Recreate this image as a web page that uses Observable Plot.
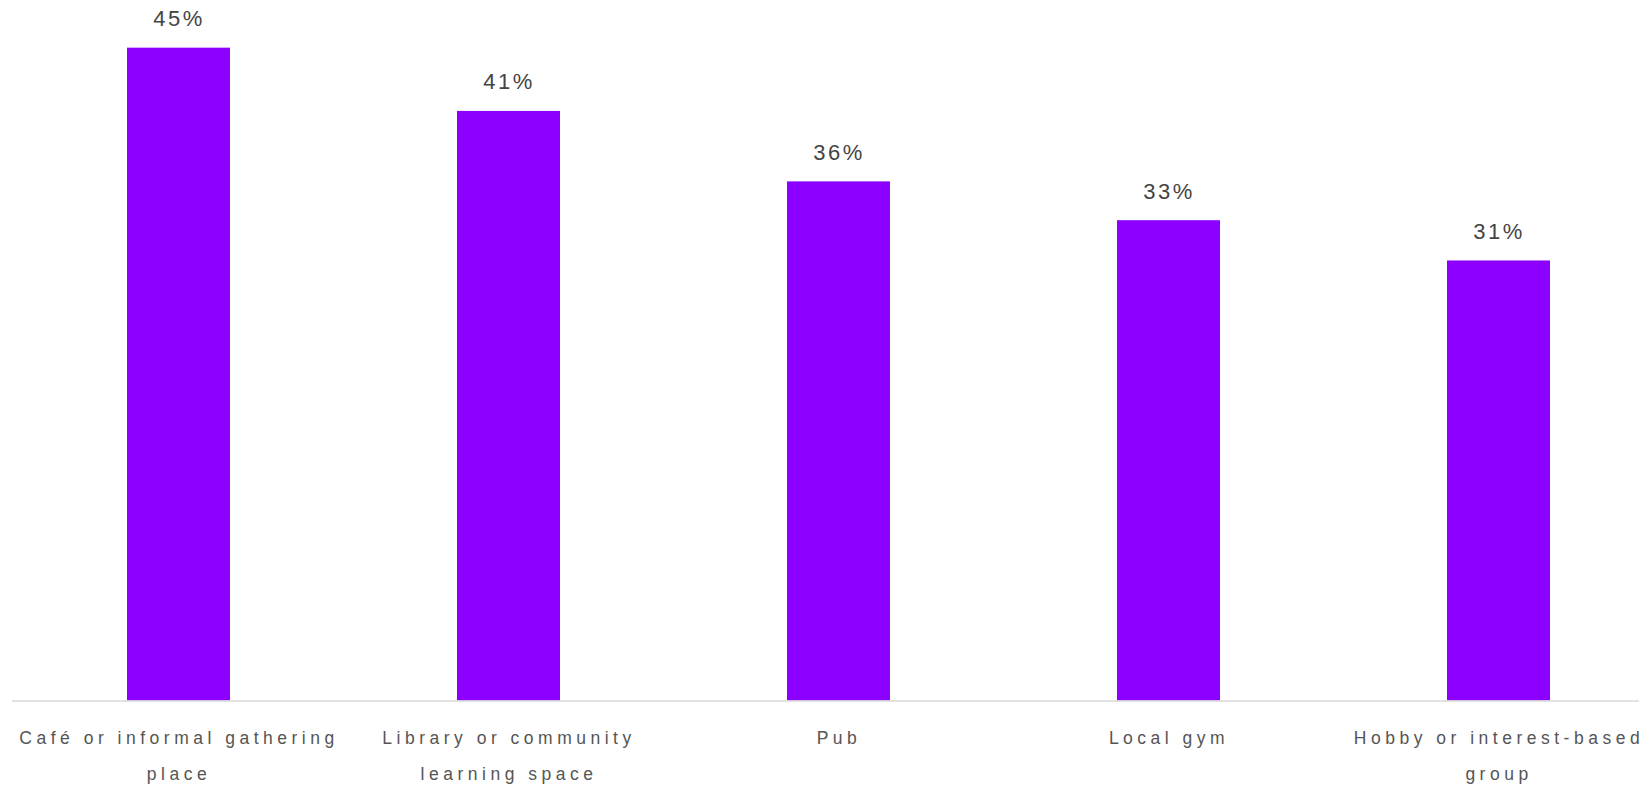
<!DOCTYPE html>
<html>
<head>
<meta charset="utf-8">
<script src="https://cdn.jsdelivr.net/npm/d3@7"></script>
<script src="https://cdn.jsdelivr.net/npm/@observablehq/plot@0.6"></script>
<style>
  html, body { margin: 0; padding: 0; background: #fff; overflow: hidden; }
  #wrap { width: 1639px; height: 789px; overflow: hidden; }
  #wrap svg { max-width: none !important; }
  g[aria-label="x-axis tick label"] text { letter-spacing: 4.5px; }
  g[aria-label="text"] text { letter-spacing: 2.5px; }
</style>
</head>
<body>
<div id="wrap"></div>
<script>
const categories = [
  "Café or informal gathering place",
  "Library or community learning space",
  "Pub",
  "Local gym",
  "Hobby or interest-based group"
];
const tickLabels = [
  "Café or informal gathering\nplace",
  "Library or community\nlearning space",
  "Pub",
  "Local gym",
  "Hobby or interest-based\ngroup"
];
const values = [45.4, 41.0, 36.1, 33.4, 30.6];

const data = categories.map((c, i) => ({category: c, value: values[i]}));
const labelOf = new Map(categories.map((c, i) => [c, tickLabels[i]]));

const chart = Plot.plot({
  width: 1677,
  height: 789,
  marginLeft: 12,
  marginRight: 12.5,
  marginTop: 20,
  marginBottom: 88.5,
  style: {fontFamily: "'Liberation Sans', Arial, sans-serif", background: "#fff", maxWidth: "none"},
  x: {domain: categories, range: [12, 1664.5], paddingInner: 0.687, paddingOuter: 0.3435, label: null},
  y: {domain: [0, 45], range: [700.5, 700.5 - 45 * 14.38], axis: null},
  marks: [
    Plot.barY(data, {x: "category", y: "value", fill: "#8B00FF"}),
    Plot.ruleY([0], {stroke: "#d9d9d9", strokeWidth: 1.5}),
    Plot.text(data, {
      x: "category", y: "value", dy: -29,
      text: d => `${Math.round(d.value)}%`,
      fontSize: 22, fill: "#444"
    }),
    Plot.axisX({
      tickSize: 0, tickPadding: 17, fontSize: 17.5, lineHeight: 2.08,
      tickFormat: d => labelOf.get(d), color: "#555", label: null
    })
  ]
});
document.getElementById("wrap").appendChild(chart);
</script>
</body>
</html>
